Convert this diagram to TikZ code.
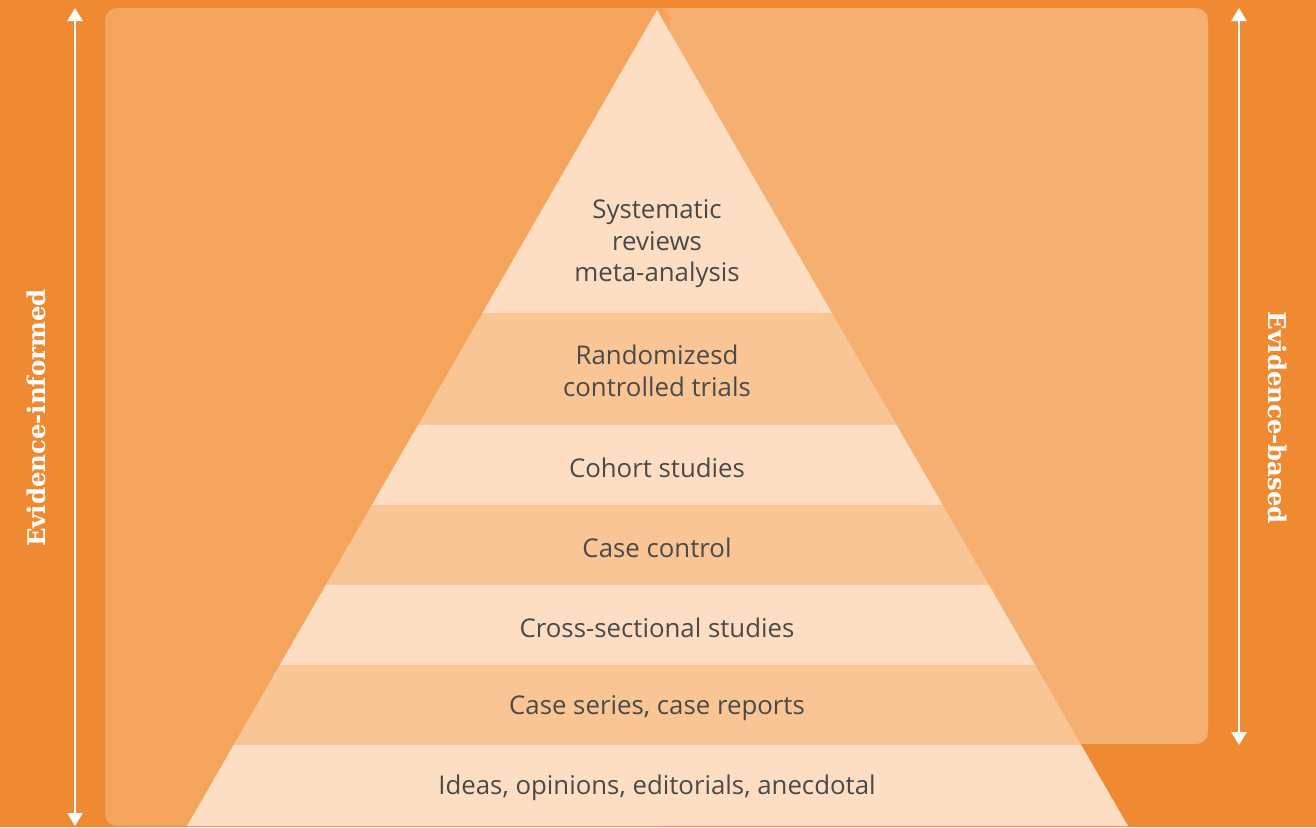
\documentclass[tikz,border=0pt]{standalone}
\usepackage{fontspec}
\setmainfont{Open Sans}
\newfontfamily\slabfont{DejaVu Serif Bold}
\usetikzlibrary{arrows.meta}
\definecolor{bgorange}{HTML}{F08A32}
\definecolor{leftpanel}{HTML}{F5A45C}
\definecolor{rightpanel}{HTML}{F5AF70}
\definecolor{bandlight}{HTML}{FDDEC2}
\definecolor{banddark}{HTML}{F9C595}
\definecolor{txtgray}{HTML}{4A4A4A}
\tikzset{
  bandtext/.style={text=txtgray, align=center, font=\fontsize{25.8}{31.5}\selectfont},
  sidetext/.style={text=white, font=\slabfont\fontsize{24.4}{26}\selectfont},
  sidearrow/.style={draw=white, line width=2.5pt, {Triangle[length=13pt,width=15pt]}-{Triangle[length=13pt,width=15pt]}},
}
\begin{document}
\begin{tikzpicture}[x=1pt,y=-1pt]
\useasboundingbox (0,0) rectangle (1316,827);
\fill[bgorange] (0,0) rectangle (1316,827);
% panels
\fill[rightpanel, rounded corners=12pt] (640,8) rectangle (1208,744);
\fill[leftpanel, rounded corners=12pt] (105,8) rectangle (670,826);
\fill[leftpanel] (640,8) rectangle (657,826);
% pyramid bands
\begin{scope}
\clip (657,10) -- (1128,826) -- (187,826) -- cycle;
\fill[bandlight] (0,0) rectangle (1316,313);
\fill[banddark] (0,313) rectangle (1316,425);
\fill[bandlight] (0,425) rectangle (1316,505);
\fill[banddark] (0,505) rectangle (1316,585);
\fill[bandlight] (0,585) rectangle (1316,665);
\fill[banddark] (0,665) rectangle (1316,745);
\fill[bandlight] (0,745) rectangle (1316,827);
\end{scope}
% texts
\node[bandtext] (l1) at (657,244) {Systematic\\reviews\\meta-analysis};
\node[bandtext] (l2) at (657,371) {Randomizesd\\controlled trials};
\node[bandtext] (l3) at (657,468) {Cohort studies};
\node[bandtext] (l4) at (657,548) {Case control};
\node[bandtext] (l5) at (657,628) {Cross-sectional studies};
\node[bandtext] (l6) at (657,708) {Case series, case reports};
\node[bandtext] (l7) at (657,788) {Ideas, opinions, editorials, anecdotal};
% side arrows
\coordinate (lt) at (75,8);
\coordinate (lb) at (75,826);
\coordinate (rt) at (1239,8);
\coordinate (rb) at (1239,745);
\draw[sidearrow] (lt) -- (lb);
\draw[sidearrow] (rt) -- (rb);
\node[sidetext, rotate=90] (ei) at (36,418) {Evidence-informed};
\node[sidetext, rotate=-90] (eb) at (1278,418) {Evidence-based};
\end{tikzpicture}
\end{document}
